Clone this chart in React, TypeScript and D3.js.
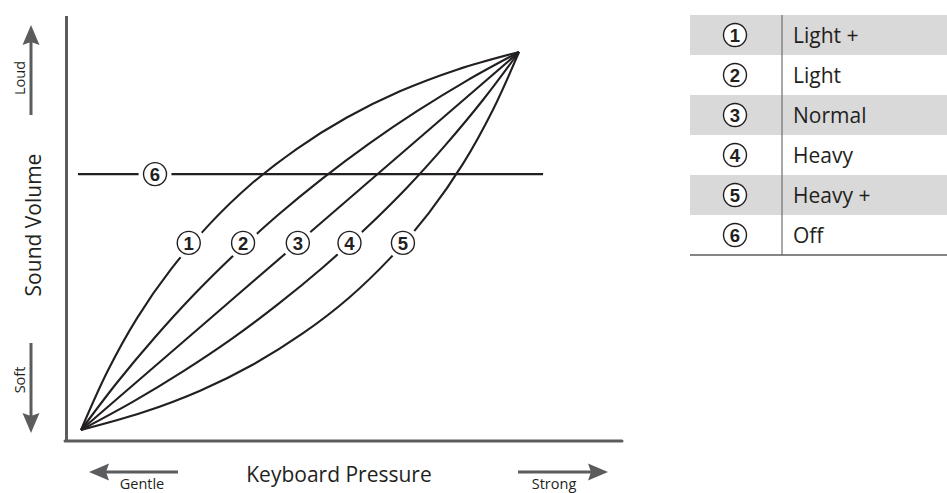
import React from "react";
import * as d3 from "d3";

// Curves: [keyboard pressure, sound volume] (0..100 each)
const curveLightPlus: [number, number][] = [[0, 0], [6, 15.4], [12.8, 29.6], [20.6, 42.6], [29.3, 54.4], [38.8, 65], [49.3, 74.4], [60.6, 82.6], [72.8, 89.6], [86, 95.4], [100, 100]];
const curveLight: [number, number][] = [[0, 0], [8.2, 12.5], [16.8, 24.4], [25.7, 35.7], [35.1, 46.5], [44.9, 56.8], [55.1, 66.5], [65.7, 75.7], [76.8, 84.4], [88.2, 92.5], [100, 100]];
const curveNormal: [number, number][] = [[0, 0], [50, 50], [100, 100]];
const curveHeavy: [number, number][] = [[0, 0], [11.9, 7.5], [23.3, 15.5], [34.4, 24.1], [45, 33.3], [55.2, 43], [65, 53.3], [74.4, 64.1], [83.3, 75.5], [91.9, 87.5], [100, 100]];
const curveHeavyPlus: [number, number][] = [[0, 0], [14, 4.6], [27.2, 10.4], [39.4, 17.4], [50.7, 25.6], [61.2, 35], [70.7, 45.6], [79.4, 57.4], [87.2, 70.4], [94, 84.6], [100, 100]];
const curves = [curveLightPlus, curveLight, curveNormal, curveHeavy, curveHeavyPlus];

const curveLabelX = [24.6, 37.0, 49.5, 61.3, 73.5];
const curveLabelY = 49.5;

const offLevel = 67.7;
const offStart = -0.7;
const offEnd = 105.5;
const offLabelX = 16.9;

const legendNumbers = ["1", "2", "3", "4", "5", "6"];
const legendLabels = ["Light +", "Light", "Normal", "Heavy", "Heavy +", "Off"];

const FONT = "'Open Sans', 'Noto Sans', sans-serif";
const NUMFONT = "'Liberation Sans', Arial, sans-serif";
const INK = "#231f20";
const GREY = "#5b5c5e";

function Circled({ cx, cy, n, halo }: { cx: number; cy: number; n: string; halo?: boolean }) {
  return (
    <g>
      {halo && <circle cx={cx} cy={cy} r={16.5} fill="#fff" />}
      <circle cx={cx} cy={cy} r={11.5} fill="#fff" stroke={INK} strokeWidth={1.4} />
      <text x={cx} y={cy + 0.5} textAnchor="middle" dominantBaseline="central" fontFamily={NUMFONT} fontWeight="bold" fontSize={18.5} fill={INK}>
        {n}
      </text>
    </g>
  );
}

export default function App() {
  const W = 947, H = 493;
  const x = d3.scaleLinear().domain([0, 100]).range([81, 519]);
  const y = d3.scaleLinear().domain([0, 100]).range([430, 52]);
  const line = d3.line<[number, number]>().x(d => x(d[0])).y(d => y(d[1])).curve(d3.curveCatmullRom.alpha(0.5));

  const rowH = 40, tableTop = 15, tableLeft = 690, divX = 782;

  return (
    <svg width={W} height={H} style={{ position: "absolute", left: 0, top: 0, background: "#fff" }}>
      {/* axes */}
      <line x1={66.5} y1={16} x2={66.5} y2={442} stroke={GREY} strokeWidth={3} />
      <line x1={65} y1={441} x2={622} y2={441} stroke={GREY} strokeWidth={3} strokeLinecap="round" />

      {/* curves */}
      {curves.map((c, i) => (
        <path key={i} d={line(c) || ""} fill="none" stroke={INK} strokeWidth={2.1} />
      ))}
      {/* off line */}
      <line x1={x(offStart)} y1={y(offLevel)} x2={x(offEnd)} y2={y(offLevel)} stroke={INK} strokeWidth={2.1} />

      {curveLabelX.map((lx, i) => (
        <Circled key={i} cx={x(lx)} cy={y(curveLabelY)} n={legendNumbers[i]} halo />
      ))}
      <Circled cx={x(offLabelX)} cy={y(offLevel)} n={legendNumbers[5]} halo />

      {/* Y axis title & arrows */}
      <text transform="translate(41,225) rotate(-90)" textAnchor="middle" fontFamily={FONT} fontSize={21} fill={INK}>Sound Volume</text>
      <line x1={31} y1={115} x2={31} y2={40} stroke={GREY} strokeWidth={3} />
      <path d="M31,25 L39.5,45 L31,42 L22.5,45 Z" fill={GREY} />
      <text transform="translate(25,78) rotate(-90)" textAnchor="middle" fontFamily={FONT} fontSize={14.5} fill={INK}>Loud</text>
      <line x1={31} y1={343} x2={31} y2={418} stroke={GREY} strokeWidth={3} />
      <path d="M31,433 L39.5,413 L31,416 L22.5,413 Z" fill={GREY} />
      <text transform="translate(25,380) rotate(-90)" textAnchor="middle" fontFamily={FONT} fontSize={14.5} fill={INK}>Soft</text>

      {/* X axis title & arrows */}
      <text x={339} y={482} textAnchor="middle" fontFamily={FONT} fontSize={21} fill={INK}>Keyboard Pressure</text>
      <line x1={178} y1={472} x2={106} y2={472} stroke={GREY} strokeWidth={3} />
      <path d="M89,472 L109,463.5 L106,472 L109,480.5 Z" fill={GREY} />
      <text x={142} y={489} textAnchor="middle" fontFamily={FONT} fontSize={14.5} fill={INK}>Gentle</text>
      <line x1={518} y1={472} x2={593} y2={472} stroke={GREY} strokeWidth={3} />
      <path d="M608,472 L588,463.5 L591,472 L588,480.5 Z" fill={GREY} />
      <text x={554} y={489} textAnchor="middle" fontFamily={FONT} fontSize={14.5} fill={INK}>Strong</text>

      {/* legend table */}
      {legendLabels.map((lab, i) => (
        <g key={lab}>
          {i % 2 === 0 && <rect x={tableLeft} y={tableTop + i * rowH} width={W - tableLeft} height={rowH} fill="#d9d9d9" />}
          <Circled cx={735} cy={tableTop + i * rowH + rowH / 2} n={legendNumbers[i]} />
          <text x={793} y={tableTop + i * rowH + rowH / 2} dominantBaseline="central" fontFamily={FONT} fontSize={21} fill={INK}>{lab}</text>
        </g>
      ))}
      <line x1={divX} y1={tableTop} x2={divX} y2={tableTop + 6 * rowH} stroke="#6d6e71" strokeWidth={1.2} />
      <line x1={tableLeft} y1={tableTop + 6 * rowH} x2={W} y2={tableTop + 6 * rowH} stroke={GREY} strokeWidth={1.5} />
    </svg>
  );
}
